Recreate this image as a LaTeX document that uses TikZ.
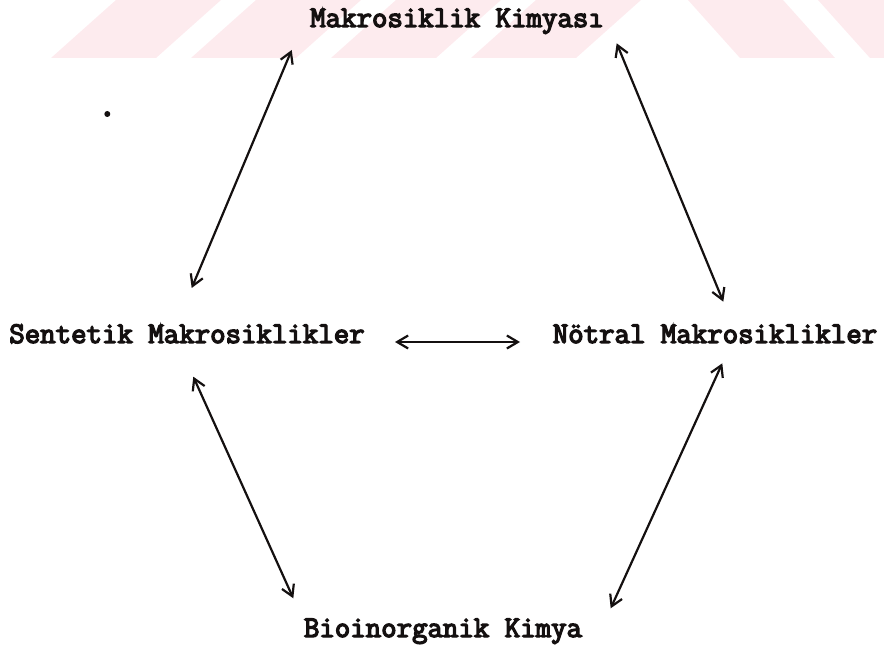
\documentclass[tikz,border=0pt]{standalone}
\usepackage{fontspec}
\newfontfamily\typew[FakeBold=4.5]{Latin Modern Mono}
\usepackage{tikz}
\usetikzlibrary{
  arrows.meta,
  positioning
}
\definecolor{stamp}{HTML}{FDEBEE}
\definecolor{ink}{HTML}{141010}

\begin{document}
\begin{tikzpicture}[
  x=1pt, y=-1pt,
  term/.style={inner sep=0pt, anchor=base, text=ink, font=\typew\fontsize{30}{30}\selectfont},
  arr/.style={{Straight Barb[length=11pt,width=13pt]}-{Straight Barb[length=11pt,width=13pt]}, line width=2.2pt, draw=ink},
  band/.style={fill=stamp, draw=none}
]
\useasboundingbox (0,0) rectangle (884,652);

% Background: faint stamp stripes
\foreach \bx in {51,191,331,471}
  \fill[band] (\bx,58) -- (\bx+105,58) -- (\bx+170,0) -- (\bx+65,0) -- cycle;
\fill[band] (740,58) -- (835,58) -- (783,0) -- (688,0) -- cycle;
\fill[band] (870,58) -- (884,58) -- (884,0) -- (818,0) -- cycle;

% Terms
\node[term] (makro) at (457,27) {Makrosiklik Kimyası};
\node[term] (sentetik) at (187,343) {Sentetik Makrosiklikler};
\node[term] (notral) at (715,343) {Nötral Makrosiklikler};
\node[term] (bio) at (443,637) {Bioinorganik Kimya};

% Arrow ends
\coordinate (makro-l) at (291.7,50);
\coordinate (makro-r) at (616.7,43.3);
\coordinate (sent-t) at (191.7,288);
\coordinate (sent-b) at (193.3,376.7);
\coordinate (sent-r) at (395,342);
\coordinate (notr-t) at (723.3,301.7);
\coordinate (notr-b) at (722.3,363.3);
\coordinate (notr-l) at (520,342);
\coordinate (bio-l) at (293.3,598.3);
\coordinate (bio-r) at (610.7,608.3);

% Arrows
\draw[arr] (makro-l) -- (sent-t);
\draw[arr] (makro-r) -- (notr-t);
\draw[arr] (sent-r) -- (notr-l);
\draw[arr] (sent-b) -- (bio-l);
\draw[arr] (notr-b) -- (bio-r);

% stray dot
\fill[ink] (107.3,114) circle (3pt);

\end{tikzpicture}
\end{document}
